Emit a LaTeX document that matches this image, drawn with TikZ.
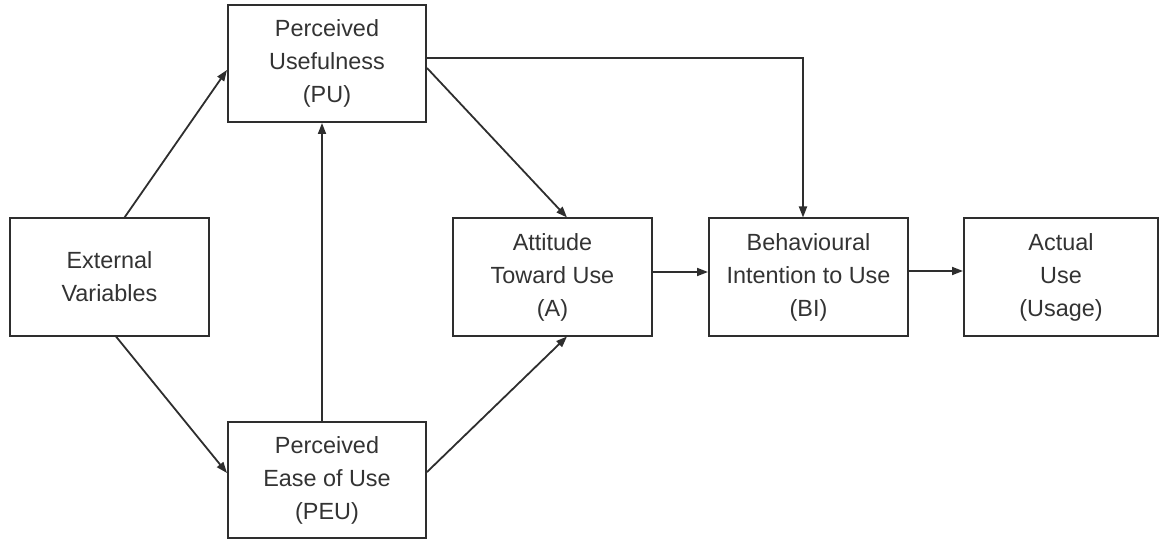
\documentclass[tikz,border=0pt]{standalone}
\usepackage{fontspec}
\setmainfont{Liberation Sans}
\usetikzlibrary{arrows.meta,calc}
\definecolor{ln}{HTML}{2E2E2E}
\definecolor{tx}{HTML}{333333}
\begin{document}
\begin{tikzpicture}[x=1pt,y=-1pt,
  box/.style={draw=ln,line width=2pt,fill=white,inner sep=0pt,align=center,
    text=tx,font=\fontsize{23.4}{33}\selectfont,minimum height=117pt},
  arr/.style={draw=ln,line width=1.8pt,-{Triangle[length=11pt,width=8pt]}}]
\useasboundingbox (0,0) rectangle (1160,540);
\node[box,minimum width=199pt] (ext) at (109.5,277) {External\\Variables};
\node[box,minimum width=198pt] (pu) at (327,63.5) {Perceived\\Usefulness\\(PU)};
\node[box,minimum width=198pt,minimum height=116pt] (peu) at (327,480) {Perceived\\Ease of Use\\(PEU)};
\node[box,minimum width=199pt] (a) at (552.5,277) {Attitude\\Toward Use\\(A)};
\node[box,minimum width=199pt] (bi) at (808.5,277) {Behavioural\\Intention to Use\\(BI)};
\node[box,minimum width=194pt] (au) at (1061,277) {Actual\\Use\\(Usage)};
\draw[arr] ([xshift=15pt]ext.north) -- ([yshift=-6.5pt]pu.west);
\draw[arr] ([xshift=6.5pt]ext.south) -- ([yshift=7pt]peu.west);
\draw[arr] ([xshift=-5pt]peu.north) -- ([xshift=-5pt]pu.south);
\draw[arr] ([yshift=-4.5pt]pu.east) -- ([xshift=14.5pt]a.north);
\draw[arr] ([yshift=8pt]peu.east) -- ([xshift=14.5pt]a.south);
\draw[arr] ([yshift=5.5pt]pu.east) -| ([xshift=-5.5pt]bi.north);
\draw[arr] ([yshift=5pt]a.east) -- ([yshift=5pt]bi.west);
\draw[arr] ([yshift=6pt]bi.east) -- ([yshift=6pt]au.west);
\end{tikzpicture}
\end{document}
